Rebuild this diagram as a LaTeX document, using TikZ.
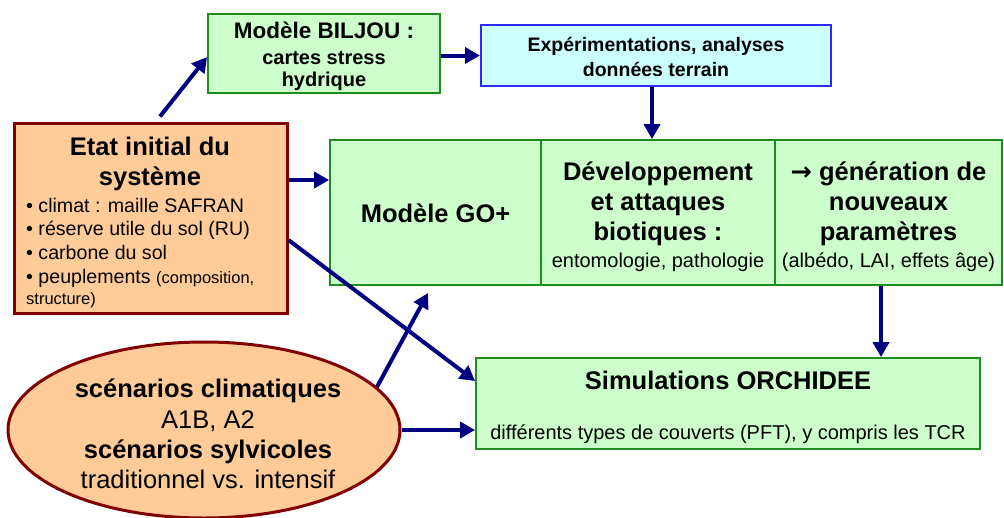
\documentclass[tikz,border=0pt]{standalone}
\usepackage{fontspec}
\setmainfont{Liberation Sans}
\newfontfamily\symbfont{DejaVu Sans}
\usetikzlibrary{arrows.meta,shapes.geometric,calc}

\definecolor{navy}{HTML}{000080}
\definecolor{boxgreen}{HTML}{CCFFCC}
\definecolor{edgegreen}{HTML}{1E8C1E}
\definecolor{boxcyan}{HTML}{CCFFFF}
\definecolor{edgeblue}{HTML}{2A2AFF}
\definecolor{boxpeach}{HTML}{FFCC99}
\definecolor{edgered}{HTML}{800000}

% font sizes (1pt = 1px of the final image)
\newcommand\fA{\fontsize{25.5}{30}\selectfont\bfseries}
\newcommand\fB{\fontsize{22.5}{26}\selectfont\bfseries}
\newcommand\fC{\fontsize{20}{23}\selectfont\bfseries}
\newcommand\fD{\fontsize{19.5}{23}\selectfont\bfseries}
\newcommand\fE{\fontsize{25.5}{30}\selectfont}
\newcommand\fR{\fontsize{20}{23}\selectfont}
\newcommand\fS{\fontsize{19.6}{22}\selectfont}
\newcommand\fT{\fontsize{16.5}{19}\selectfont}

\tikzset{
  arr/.style={draw=navy, line width=4pt, -{Triangle[length=15pt,width=16pt]}},
  gbox/.style={rectangle, draw=edgegreen, fill=boxgreen, line width=1.8pt, inner sep=0pt},
  cbox/.style={rectangle, draw=edgeblue, fill=boxcyan, line width=2pt, inner sep=0pt},
  pbox/.style={rectangle, draw=edgered, fill=boxpeach, line width=3pt, inner sep=0pt},
  pell/.style={ellipse, draw=edgered, fill=boxpeach, line width=3pt, inner sep=0pt},
  ln/.style={anchor=base, inner sep=0pt},
  lnw/.style={anchor=base west, inner sep=0pt},
}

\begin{document}
\begin{tikzpicture}[x=1pt, y=-1pt]
\useasboundingbox (0,0) rectangle (1004,517);
\clip (0,0) rectangle (1004,517);

% --- boxes ---
\node[gbox, minimum width=232pt, minimum height=79pt] (biljou) at (324,53.5) {};
\node[cbox, minimum width=350pt, minimum height=61pt] (exper) at (656,55.5) {};
\node[pbox, minimum width=273pt, minimum height=190pt] (etat) at (150.5,218) {};
\node[gbox, minimum width=211pt, minimum height=145pt] (go1) at (435.5,212.5) {};
\node[gbox, minimum width=234pt, minimum height=145pt] (go2) at (658,212.5) {};
\node[gbox, minimum width=227pt, minimum height=145pt] (go3) at (888.5,212.5) {};
\node[gbox, minimum width=504pt, minimum height=91pt] (orch) at (728,403.5) {};
\node[pell, minimum width=392pt, minimum height=176pt] (scen) at (204,430) {};

% --- texts ---
\node[ln] (b1) at (324,38) {\fB Modèle BILJOU :};
\node[ln] (b2) at (324,64) {\fC cartes stress};
\node[ln] (b3) at (324,86) {\fC hydrique};

\node[ln] (x1) at (656,51) {\fD Expérimentations, analyses};
\node[ln] (x2) at (656,76) {\fD données terrain};

\node[ln] (e1) at (150,155) {\fA Etat initial du};
\node[ln] (e2) at (150,185) {\fA système};
\node[lnw] (e3) at (26,212) {\fS • climat : maille SAFRAN};
\node[lnw] (e4) at (26,235) {\fS • réserve utile du sol (RU)};
\node[lnw] (e5) at (26,259) {\fS • carbone du sol};
\node[lnw] (e6) at (26,283) {\fS • peuplements {\fT (composition,}};
\node[lnw] (e7) at (26,304) {\fT structure)};

\node[ln] (g1) at (435.5,222) {\fA Modèle GO+};

\node[ln] (d1) at (658,180) {\fA Développement};
\node[ln] (d2) at (658,210) {\fA et attaques};
\node[ln] (d3) at (658,240) {\fA biotiques :};
\node[ln] (d4) at (658,267) {\fR entomologie, pathologie};

\node[ln] (p1) at (888.5,180) {\fA {\symbfont →} génération de};
\node[ln] (p2) at (888.5,210) {\fA nouveaux};
\node[ln] (p3) at (888.5,240) {\fA paramètres};
\node[ln] (p4) at (888.5,267) {\fR (albédo, LAI, effets âge)};

\node[ln] (o1) at (728,389) {\fA Simulations ORCHIDEE};
\node[ln] (o2) at (728,439) {\fR différents types de couverts (PFT), y compris les TCR};

\node[ln] (s1) at (208,397) {\fA scénarios climatiques};
\node[ln] (s2) at (208,428) {\fE A1B, A2};
\node[ln] (s3) at (208,458) {\fA scénarios sylvicoles};
\node[ln] (s4) at (208,488) {\fE traditionnel vs. intensif};

% --- connectors ---
\coordinate (gotip) at (428,293);
\coordinate (etop) at ($(etat.north)+(9.5,-5)$);
\coordinate (bin) at ($(biljou.west)+(0,3.5)$);
\coordinate (xs) at ($(exper.south)+(-4,0)$);
\coordinate (es) at ($(etat.east)+(0,-38)$);
\coordinate (el) at ($(etat.east)+(0,22)$);
\coordinate (oin) at ($(orch.west)+(0,-22.5)$);
\coordinate (gs) at ($(go3.south)+(-7.5,0)$);

\draw[arr] (etop) -- (bin);
\draw[arr] (biljou.east |- exper.west) -- (exper.west);
\draw[arr] (xs) -- (xs |- go2.north);
\draw[arr] (es) -- (es -| go1.west);
\draw[arr] (el) -- (oin);
\draw[arr] (scen.14) -- (gotip);
\draw[arr] (scen.east) -- (scen.east -| orch.west);
\draw[arr] (gs) -- (gs |- orch.north);
\end{tikzpicture}
\end{document}
